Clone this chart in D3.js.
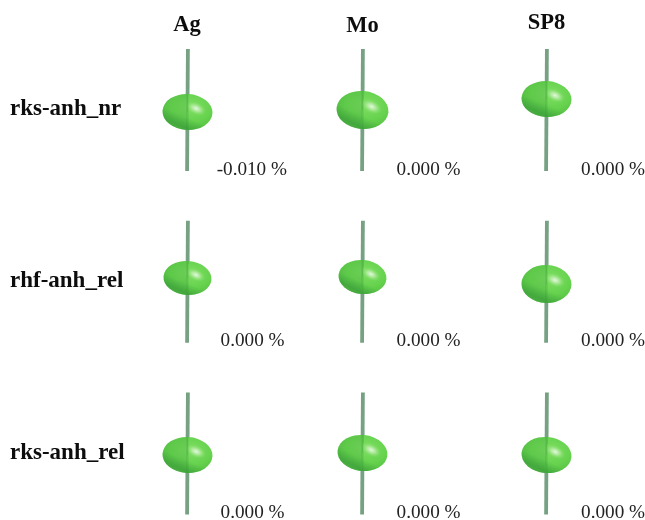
<!DOCTYPE html>
<html>
<head>
<meta charset="utf-8">
<script src="https://cdnjs.cloudflare.com/ajax/libs/d3/7.8.5/d3.min.js"></script>
<style>
  html, body { margin: 0; padding: 0; background: #fff; overflow: hidden; }
  text { font-family: "Liberation Serif", "Times New Roman", serif; }
</style>
</head>
<body>
<div id="chart"></div>
<script>
// chart values
var columns = ["Ag", "Mo", "SP8"];
var rows = ["rks-anh_nr", "rhf-anh_rel", "rks-anh_rel"];
var percents = [
    ["-0.010 %", "0.000 %", "0.000 %"],
    ["0.000 %", "0.000 %", "0.000 %"],
    ["0.000 %", "0.000 %", "0.000 %"]
];
// height of each ellipsoid centre, and its two half axes
var blobY = [
    [112, 110, 99],
    [278, 277, 284],
    [455, 453, 455]
];
var blobRx = [
    [25, 26, 25],
    [24, 24, 25],
    [25, 25, 25]
];
var blobRy = [
    [18, 19, 18],
    [17, 17, 19],
    [18, 18, 18]
];
var blobTilt = [
    [3, 5, 3],
    [4, 6, 2],
    [3, 6, 5]
];

var w = 645;
var h = 520;

var svg = d3.select("#chart")
    .append("svg")
    .attr("width", w)
    .attr("height", h);

// the columns are not evenly spaced in the picture
var x = d3.scaleOrdinal().domain(columns).range([187.5, 362.5, 546.5]);
var y = d3.scalePoint().domain(rows).range([110, 453.5]);
var px = d3.scaleLinear().domain([0, h]).range([0, h]);

var defs = svg.append("defs");

var body = defs.append("radialGradient")
    .attr("id", "body")
    .attr("cx", 0.58).attr("cy", 0.36).attr("r", 0.72);
body.append("stop").attr("offset", "0%").attr("stop-color", "#7fdf63");
body.append("stop").attr("offset", "55%").attr("stop-color", "#66d24e");
body.append("stop").attr("offset", "85%").attr("stop-color", "#57c244");
body.append("stop").attr("offset", "100%").attr("stop-color", "#4eb342");

var shade = defs.append("linearGradient")
    .attr("id", "shade")
    .attr("x1", 0.7).attr("y1", 0.2).attr("x2", 0.3).attr("y2", 1);
shade.append("stop").attr("offset", "55%").attr("stop-color", "#36983a").attr("stop-opacity", 0);
shade.append("stop").attr("offset", "85%").attr("stop-color", "#36983a").attr("stop-opacity", 0.55);
shade.append("stop").attr("offset", "100%").attr("stop-color", "#4aa846").attr("stop-opacity", 0.4);

// left of the rod the ellipsoid reads a little darker
var side = defs.append("linearGradient").attr("id", "side");
side.append("stop").attr("offset", "0%").attr("stop-color", "#2f8f34").attr("stop-opacity", 0.06);
side.append("stop").attr("offset", "50%").attr("stop-color", "#2f8f34").attr("stop-opacity", 0.2);
side.append("stop").attr("offset", "50%").attr("stop-color", "#2f8f34").attr("stop-opacity", 0);

var shine = defs.append("radialGradient").attr("id", "shine");
shine.append("stop").attr("offset", "0%").attr("stop-color", "#ffffff").attr("stop-opacity", 0.8);
shine.append("stop").attr("offset", "40%").attr("stop-color", "#dff6d4").attr("stop-opacity", 0.55);
shine.append("stop").attr("offset", "100%").attr("stop-color", "#8fe676").attr("stop-opacity", 0);

defs.append("filter").attr("id", "soft")
    .append("feGaussianBlur").attr("stdDeviation", 0.6);
defs.append("filter").attr("id", "softText")
    .append("feGaussianBlur").attr("stdDeviation", 0.25);

var cells = [];
rows.forEach(function (r, i) {
    columns.forEach(function (c, j) {
        cells.push({
            row: r,
            col: c,
            label: percents[i][j],
            cy: blobY[i][j],
            rx: blobRx[i][j],
            ry: blobRy[i][j],
            tilt: blobTilt[i][j]
        });
    });
});

var cell = svg.selectAll("g.cell")
    .data(cells)
    .enter()
    .append("g")
    .attr("class", "cell")
    .attr("filter", "url(#soft)");

// rod behind the ellipsoid, runs 61 above and below the row centre
cell.append("line")
    .attr("x1", function (d) { return x(d.col) + 0.4; })
    .attr("x2", function (d) { return x(d.col) - 0.4; })
    .attr("y1", function (d) { return y(d.row) - 61; })
    .attr("y2", function (d) { return y(d.row) + 61; })
    .attr("stroke", "#76a283")
    .attr("stroke-width", 3.8);

var blob = cell.append("g")
    .attr("transform", function (d) {
        return "translate(" + x(d.col) + "," + px(d.cy) + ") rotate(" + d.tilt + ")";
    });

blob.append("ellipse")
    .attr("rx", function (d) { return d.rx; })
    .attr("ry", function (d) { return d.ry; })
    .attr("fill", "url(#body)");

blob.append("ellipse")
    .attr("rx", function (d) { return d.rx; })
    .attr("ry", function (d) { return d.ry; })
    .attr("fill", "url(#shade)");

blob.append("ellipse")
    .attr("rx", function (d) { return d.rx; })
    .attr("ry", function (d) { return d.ry; })
    .attr("fill", "url(#side)");

blob.append("ellipse")
    .attr("rx", function (d) { return d.rx * 0.42; })
    .attr("ry", function (d) { return d.ry * 0.34; })
    .attr("transform", function (d) {
        return "translate(" + (d.rx * 0.34) + "," + (-d.ry * 0.22) + ") rotate(22)";
    })
    .attr("fill", "url(#shine)");

// rod shows faintly through the ellipsoid
cell.append("line")
    .attr("x1", function (d) { return x(d.col); })
    .attr("x2", function (d) { return x(d.col); })
    .attr("y1", function (d) { return px(d.cy) - d.ry; })
    .attr("y2", function (d) { return px(d.cy) + d.ry; })
    .attr("stroke", "#2f8a35")
    .attr("stroke-opacity", 0.25)
    .attr("stroke-width", 2);

// percent labels
svg.selectAll("text.pct")
    .data(cells)
    .enter()
    .append("text")
    .attr("class", "pct")
    .attr("x", function (d) {
        if (d.label == "-0.010 %") return 287;
        return x(d.col) + (d.col == "Ag" ? 97 : d.col == "Mo" ? 98 : 98.5);
    })
    .attr("y", function (d) { return y(d.row) + 64.5; })
    .attr("text-anchor", "end")
    .attr("font-size", 19.2)
    .attr("fill", "#222")
    .attr("filter", "url(#softText)")
    .text(function (d) { return d.label; });

// column headers
svg.selectAll("text.col")
    .data(columns)
    .enter()
    .append("text")
    .attr("class", "col")
    .attr("x", function (d) { return x(d) - (d == "Ag" ? 0.5 : 0); })
    .attr("y", function (d) { return d == "SP8" ? 29 : d == "Mo" ? 32 : 31; })
    .attr("text-anchor", "middle")
    .attr("font-size", 22.5)
    .attr("font-weight", "bold")
    .attr("fill", "#111")
    .attr("filter", "url(#softText)")
    .text(function (d) { return d; });

// row headers
svg.selectAll("text.row")
    .data(rows)
    .enter()
    .append("text")
    .attr("class", "row")
    .attr("x", 10)
    .attr("y", function (d) { return y(d) + 5; })
    .attr("font-size", 23)
    .attr("font-weight", "bold")
    .attr("fill", "#111")
    .attr("filter", "url(#softText)")
    .text(function (d) { return d; });
</script>
</body>
</html>
